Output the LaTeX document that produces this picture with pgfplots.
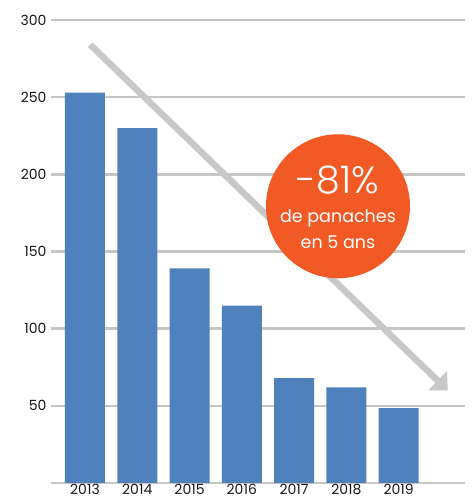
\documentclass[border=0pt]{standalone}
\usepackage{pgfplots}
\pgfplotsset{compat=1.18}
\usepackage{fontspec}
\setmainfont{Poppins}
\IfFontExistsTF{Poppins Light}{\newfontfamily\poplight{Poppins Light}}{\newfontfamily\poplight{Poppins}}
\usetikzlibrary{arrows.meta}
\definecolor{barblue}{RGB}{79,129,189}
\definecolor{gridgray}{RGB}{198,198,198}
\definecolor{arrowgray}{RGB}{200,200,200}
\definecolor{circorange}{RGB}{241,90,36}
\begin{document}
\begin{tikzpicture}
\begin{axis}[
 scale only axis, width=414pt, height=463pt,
 xmin=-0.65, xmax=7.27, ymin=0, ymax=300,
 axis line style={draw=none},
 major tick length=0pt,
 xtick={0,1,2,3,4,5,6}, xticklabels={2013,2014,2015,2016,2017,2018,2019},
 ytick={0,50,100,150,200,250,300}, yticklabels={,50,100,150,200,250,300},
 ymajorgrids, grid style={gridgray, line width=2.5pt},
 tick label style={font=\fontsize{14}{14}\selectfont, text=black!90},
 /pgf/number format/assume math mode=true,
 ybar, bar width=40pt, bar shift=0pt,
 yticklabel style={xshift=-1pt},
 xticklabel style={yshift=2pt},
]
\addplot[fill=barblue, draw=none] coordinates {(0,253) (1,230) (2,139) (3,115) (4,68) (5,62) (6,48.5)};
\draw[arrowgray, line width=6.5pt, -{Triangle[length=14pt, width=26pt]}] (axis cs:0.1,284) -- (axis cs:6.94,60);
\node[circle, fill=circorange, minimum size=144pt, inner sep=0pt] (c) at (axis cs:4.84,179.3) {};
\node[anchor=base, inner sep=0pt, text=white, font=\poplight\fontsize{38}{40}\selectfont] at ([yshift=13pt]c.center) {-81\%};
\node[anchor=base, inner sep=0pt, text=white, font=\fontsize{17.5}{20}\selectfont] at ([yshift=-16pt]c.center) {de panaches};
\node[anchor=base, inner sep=0pt, text=white, font=\fontsize{17.5}{20}\selectfont] at ([yshift=-42pt]c.center) {en 5 ans};
\end{axis}
\pgfresetboundingbox
\path ([shift={(-51pt,-19pt)}]current axis.south west) rectangle ([shift={(7pt,20pt)}]current axis.north east);
\end{tikzpicture}
\end{document}
